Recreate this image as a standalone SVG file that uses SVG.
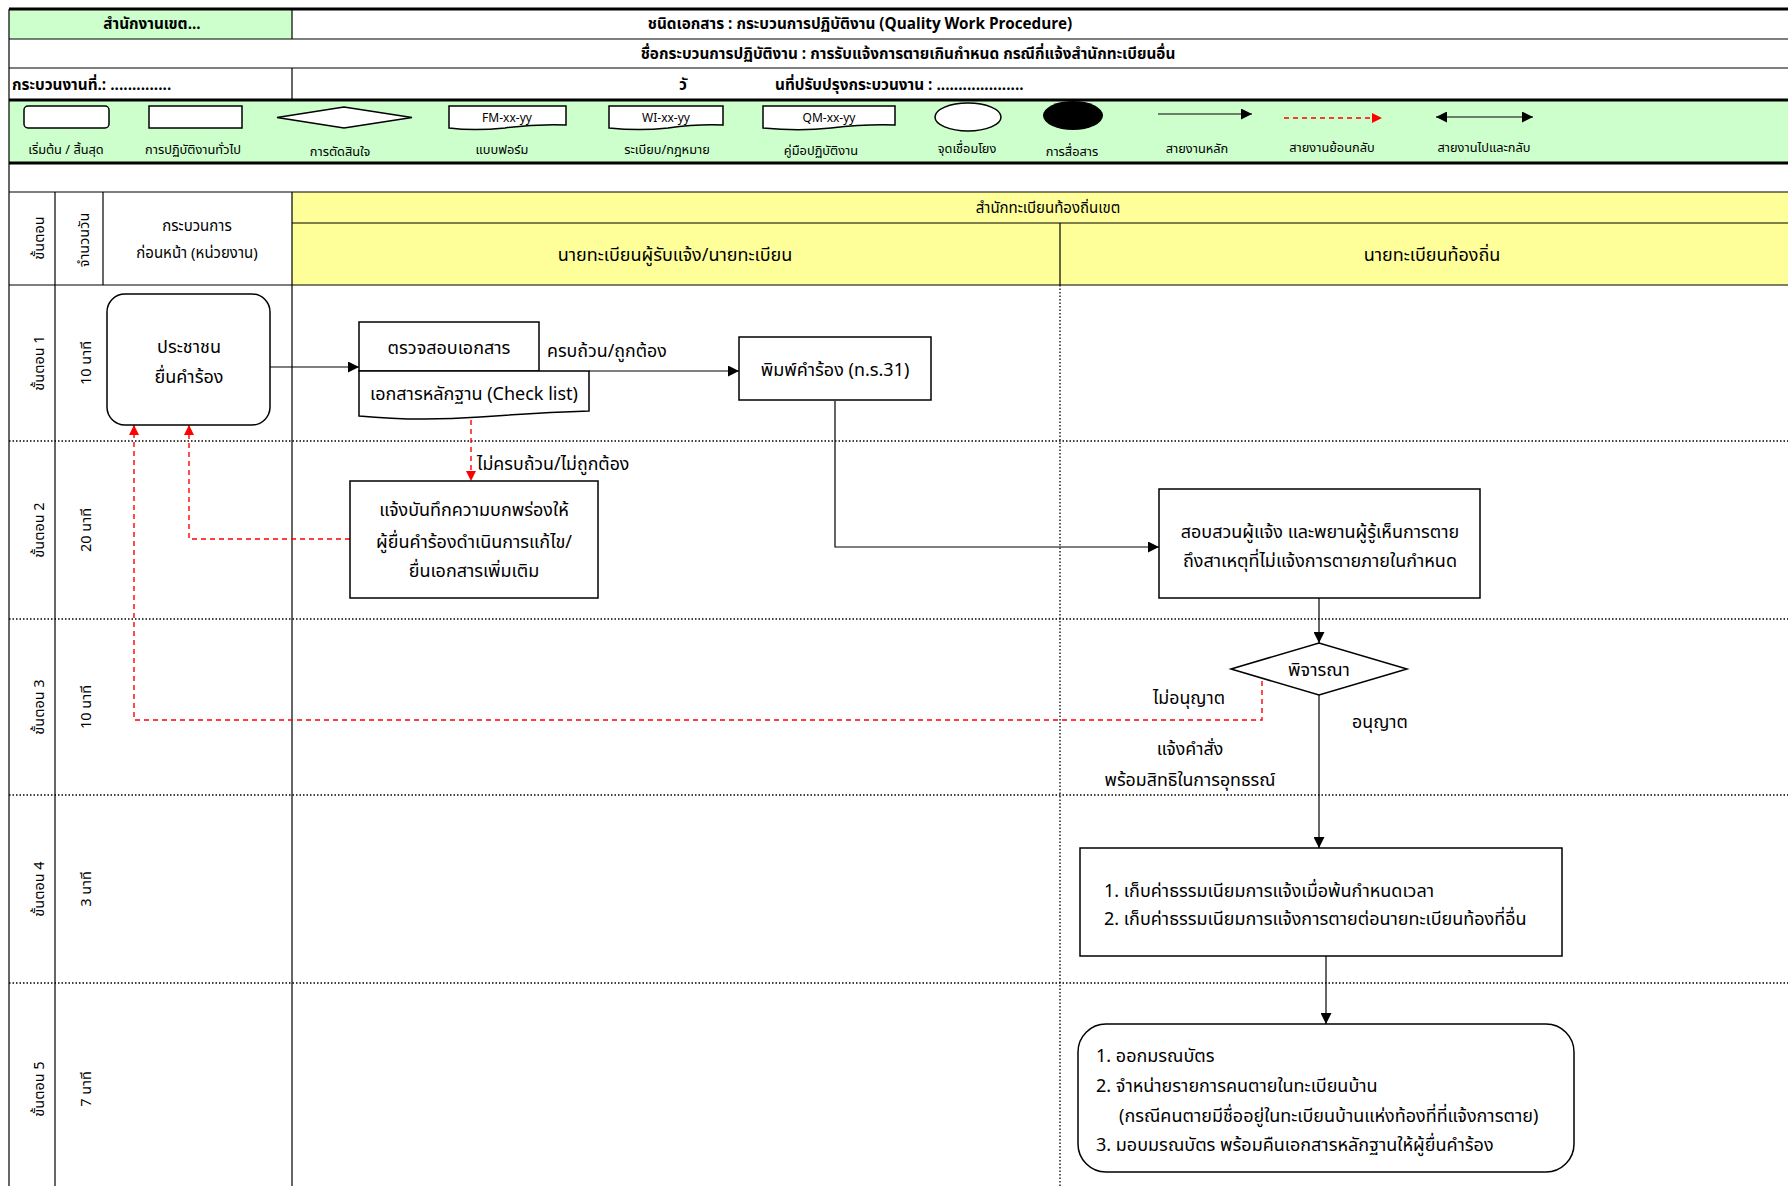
<svg xmlns="http://www.w3.org/2000/svg" width="1788" height="1186" viewBox="0 0 1788 1186">
<defs>
<style>
text{font-family:"Noto Sans Thai","Tahoma","Leelawadee UI","Noto Sans","DejaVu Sans",sans-serif;fill:#000;}
.h{font-size:15.3px;font-weight:bold;}
.lg{font-size:12.8px;}
.lgs{font-size:12px;}
.n{font-size:18px;}
.lab{font-size:17.8px;}
.rt{font-size:14.5px;}
.hd{font-size:15px;}
.ln{stroke:#000;stroke-width:1.2;fill:none;}
.thk{stroke:#000;stroke-width:3;fill:none;}
.dot{stroke:#000;stroke-width:1.3;stroke-dasharray:1.5,2;fill:none;}
.box{fill:#fff;stroke:#000;stroke-width:1.5;}
.con{stroke:#000;stroke-width:1.2;fill:none;}
.red{stroke:#f00;stroke-width:1.4;stroke-dasharray:5,4;fill:none;}
</style>
<marker id="ab" viewBox="0 0 10 10" refX="10" refY="5" markerWidth="12" markerHeight="11" markerUnits="userSpaceOnUse" orient="auto"><path d="M0,0L10,5L0,10z" fill="#000"/></marker>
<marker id="abs" viewBox="0 0 10 10" refX="0" refY="5" markerWidth="12" markerHeight="11" markerUnits="userSpaceOnUse" orient="auto"><path d="M10,0L0,5L10,10z" fill="#000"/></marker>
<marker id="ar" viewBox="0 0 10 10" refX="10" refY="5" markerWidth="10" markerHeight="10" markerUnits="userSpaceOnUse" orient="auto"><path d="M0,0L10,5L0,10z" fill="#f00"/></marker>
</defs>
<rect width="1788" height="1186" fill="#fff"/>

<g id="header">
<rect x="9" y="9" width="283" height="30" fill="#ccffcc"/>
<rect x="9" y="100" width="1779" height="63" fill="#ccffcc"/>
<line class="thk" x1="9" y1="9" x2="1788" y2="9"/>
<line class="ln" x1="9" y1="39" x2="1788" y2="39"/>
<line class="ln" x1="9" y1="68" x2="1788" y2="68"/>
<line class="thk" x1="9" y1="100" x2="1788" y2="100"/>
<line class="thk" x1="9" y1="163" x2="1788" y2="163"/>
<line class="ln" x1="292" y1="9" x2="292" y2="39"/>
<line class="ln" x1="292" y1="68" x2="292" y2="100"/>
<text class="h" x="152" y="29" text-anchor="middle">สำนักงานเขต...</text>
<text class="h" x="860" y="29" text-anchor="middle">ชนิดเอกสาร : กระบวนการปฏิบัติงาน (Quality Work Procedure)</text>
<text class="h" x="908" y="59" text-anchor="middle" font-size="15.8">ชื่อกระบวนการปฏิบัติงาน : การรับแจ้งการตายเกินกำหนด กรณีกี่แจ้งสำนักทะเบียนอื่น</text>
<text class="h" x="12" y="90">กระบวนงานที่.: ..............</text>
<text class="h" x="683" y="90" text-anchor="middle">วั</text>
<text class="h" x="775" y="90">นที่ปรับปรุงกระบวนงาน : ....................</text>
</g>

<g id="legend">
<rect class="box" x="24" y="106" width="85" height="22" rx="4" stroke-width="1.2"/>
<rect class="box" x="149" y="106" width="93" height="22" stroke-width="1.2"/>
<polygon class="box" points="277,117.5 344,107 412,117.5 344,128" stroke-width="1.2"/>
<path class="box" stroke-width="1.2" d="M449,106H566V125C540,124 520,126 505,128C485,130 465,130 449,128Z"/>
<path class="box" stroke-width="1.2" d="M609,106H723V125C700,124 682,126 668,128C650,130 628,130 609,128Z"/>
<path class="box" stroke-width="1.2" d="M763,106H895V125C868,124 848,126 831,128C812,130 785,130 763,128Z"/>
<ellipse class="box" cx="968" cy="117" rx="33" ry="14" stroke-width="1.2"/>
<ellipse cx="1073" cy="115.5" rx="30" ry="14.5" fill="#000"/>
<line class="con" x1="1158" y1="114" x2="1252" y2="114" marker-end="url(#ab)"/>
<line class="red" x1="1284" y1="118" x2="1382" y2="118" stroke-dasharray="4,3" marker-end="url(#ar)"/>
<line class="con" x1="1436" y1="117" x2="1533" y2="117" marker-start="url(#abs)" marker-end="url(#ab)"/>
<text class="lgs" x="507" y="122" text-anchor="middle">FM-xx-yy</text>
<text class="lgs" x="666" y="122" text-anchor="middle">WI-xx-yy</text>
<text class="lgs" x="829" y="122" text-anchor="middle">QM-xx-yy</text>
<text class="lg" x="66" y="154" text-anchor="middle">เริ่มต้น / สิ้นสุด</text>
<text class="lg" x="193" y="154" text-anchor="middle">การปฏิบัติงานทั่วไป</text>
<text class="lg" x="340" y="156" text-anchor="middle">การตัดสินใจ</text>
<text class="lg" x="502" y="154" text-anchor="middle">แบบฟอร์ม</text>
<text class="lg" x="667" y="154" text-anchor="middle">ระเบียบ/กฎหมาย</text>
<text class="lg" x="821" y="155" text-anchor="middle">คู่มือปฏิบัติงาน</text>
<text class="lg" x="967" y="153" text-anchor="middle">จุดเชื่อมโยง</text>
<text class="lg" x="1072" y="156" text-anchor="middle">การสื่อสาร</text>
<text class="lg" x="1197" y="153" text-anchor="middle">สายงานหลัก</text>
<text class="lg" x="1332" y="152" text-anchor="middle">สายงานย้อนกลับ</text>
<text class="lg" x="1484" y="152" text-anchor="middle">สายงานไปและกลับ</text>
</g>

<g id="grid">
<rect x="292" y="192" width="1496" height="93" fill="#ffff99"/>
<line class="ln" x1="9" y1="192" x2="1788" y2="192"/>
<line class="ln" x1="292" y1="223" x2="1788" y2="223"/>
<line class="ln" x1="9" y1="285" x2="1788" y2="285" stroke-width="1.5"/>
<line class="ln" x1="9" y1="9" x2="9" y2="1186" stroke-width="2.5"/>
<line class="ln" x1="55" y1="192" x2="55" y2="1186" stroke-width="1.5"/>
<line class="ln" x1="103" y1="192" x2="103" y2="285" stroke-width="1.5"/>
<line class="ln" x1="292" y1="192" x2="292" y2="1186" stroke-width="1.5"/>
<line class="ln" x1="1060" y1="223" x2="1060" y2="285"/>
<line class="dot" x1="1060" y1="285" x2="1060" y2="1186"/>
<line class="dot" x1="9" y1="441" x2="1788" y2="441"/>
<line class="dot" x1="9" y1="619" x2="1788" y2="619"/>
<line class="dot" x1="9" y1="795" x2="1788" y2="795"/>
<line class="dot" x1="9" y1="983" x2="1788" y2="983"/>
<text class="hd" x="1048" y="213" text-anchor="middle">สำนักทะเบียนท้องถิ่นเขต</text>
<text class="n" x="675" y="261" text-anchor="middle" font-size="15.5">นายทะเบียนผู้รับแจ้ง/นายทะเบียน</text>
<text class="n" x="1432" y="261" text-anchor="middle" font-size="15.5">นายทะเบียนท้องถิ่น</text>
<text class="hd" x="197" y="231" text-anchor="middle">กระบวนการ</text>
<text class="hd" x="197" y="258" text-anchor="middle">ก่อนหน้า (หน่วยงาน)</text>
<text class="rt" transform="translate(44,238) rotate(-90)" text-anchor="middle">ขั้นตอน</text>
<text class="rt" transform="translate(89,240) rotate(-90)" text-anchor="middle">จำนวนวัน</text>
<text class="rt" transform="translate(44,363) rotate(-90)" text-anchor="middle">ขั้นตอน 1</text>
<text class="rt" transform="translate(91,363) rotate(-90)" text-anchor="middle">10 นาที</text>
<text class="rt" transform="translate(44,530) rotate(-90)" text-anchor="middle">ขั้นตอน 2</text>
<text class="rt" transform="translate(91,530) rotate(-90)" text-anchor="middle">20 นาที</text>
<text class="rt" transform="translate(44,707) rotate(-90)" text-anchor="middle">ขั้นตอน 3</text>
<text class="rt" transform="translate(91,707) rotate(-90)" text-anchor="middle">10 นาที</text>
<text class="rt" transform="translate(44,889) rotate(-90)" text-anchor="middle">ขั้นตอน 4</text>
<text class="rt" transform="translate(91,889) rotate(-90)" text-anchor="middle">3 นาที</text>
<text class="rt" transform="translate(44,1089) rotate(-90)" text-anchor="middle">ขั้นตอน 5</text>
<text class="rt" transform="translate(91,1089) rotate(-90)" text-anchor="middle">7 นาที</text>
</g>

<g id="connectors">
<line class="con" x1="270" y1="367" x2="359" y2="367" marker-end="url(#ab)"/>
<line class="con" x1="589" y1="371" x2="739" y2="371" marker-end="url(#ab)"/>
<path class="con" d="M835,401V547H1159" marker-end="url(#ab)"/>
<line class="con" x1="1319" y1="598" x2="1319" y2="643" marker-end="url(#ab)"/>
<line class="con" x1="1319" y1="695" x2="1319" y2="848" marker-end="url(#ab)"/>
<line class="con" x1="1326" y1="956" x2="1326" y2="1024" marker-end="url(#ab)"/>
<line class="red" x1="471" y1="420" x2="471" y2="481" marker-end="url(#ar)"/>
<path class="red" d="M350,539H189V425" marker-end="url(#ar)"/>
<path class="red" d="M1262,681V720H134V425" marker-end="url(#ar)"/>
<text class="lab" x="547" y="357">ครบถ้วน/ถูกต้อง</text>
<text class="lab" x="477" y="470">ไม่ครบถ้วน/ไม่ถูกต้อง</text>
<text class="lab" x="1189" y="704" text-anchor="middle">ไม่อนุญาต</text>
<text class="lab" x="1380" y="728" text-anchor="middle">อนุญาต</text>
<text class="lab" x="1190" y="755" text-anchor="middle">แจ้งคำสั่ง</text>
<text class="lab" x="1190" y="786" text-anchor="middle">พร้อมสิทธิในการอุทธรณ์</text>
</g>

<g id="n1">
<rect class="box" x="107" y="294" width="163" height="131" rx="18"/>
<text class="n" x="189" y="353" text-anchor="middle">ประชาชน</text>
<text class="n" x="189" y="383" text-anchor="middle">ยื่นคำร้อง</text>
</g>
<g id="n2">
<rect class="box" x="359" y="322" width="180" height="49"/>
<text class="n" x="449" y="354" text-anchor="middle">ตรวจสอบเอกสาร</text>
</g>
<g id="n2doc">
<path class="box" d="M359,371H589V411C555,412 520,414 480,417C440,420 400,420 359,416Z"/>
<text class="n" x="474" y="400" text-anchor="middle">เอกสารหลักฐาน (Check list)</text>
</g>
<g id="n3">
<rect class="box" x="739" y="337" width="192" height="63"/>
<text class="n" x="835" y="376" text-anchor="middle">พิมพ์คำร้อง (ท.ร.31)</text>
</g>
<g id="n4">
<rect class="box" x="350" y="481" width="248" height="117"/>
<text class="n" x="474" y="516" text-anchor="middle">แจ้งบันทึกความบกพร่องให้</text>
<text class="n" x="474" y="548" text-anchor="middle">ผู้ยื่นคำร้องดำเนินการแก้ไข/</text>
<text class="n" x="474" y="577" text-anchor="middle">ยื่นเอกสารเพิ่มเติม</text>
</g>
<g id="n5">
<rect class="box" x="1159" y="489" width="321" height="109"/>
<text class="n" x="1320" y="538" text-anchor="middle">สอบสวนผู้แจ้ง และพยานผู้รู้เห็นการตาย</text>
<text class="n" x="1320" y="567" text-anchor="middle">ถึงสาเหตุที่ไม่แจ้งการตายภายในกำหนด</text>
</g>
<g id="n6">
<polygon class="box" points="1231,669 1319,643 1407,669 1319,695"/>
<text class="n" x="1319" y="676" text-anchor="middle">พิจารณา</text>
</g>
<g id="n7">
<rect class="box" x="1080" y="848" width="482" height="108"/>
<text class="n" x="1104" y="897">1. เก็บค่าธรรมเนียมการแจ้งเมื่อพ้นกำหนดเวลา</text>
<text class="n" x="1104" y="925">2. เก็บค่าธรรมเนียมการแจ้งการตายต่อนายทะเบียนท้องที่อื่น</text>
</g>
<g id="n8">
<rect class="box" x="1078" y="1024" width="496" height="148" rx="28"/>
<text class="n" x="1096" y="1062">1. ออกมรณบัตร</text>
<text class="n" x="1096" y="1092">2. จำหน่ายรายการคนตายในทะเบียนบ้าน</text>
<text class="n" x="1119" y="1122">(กรณีคนตายมีชื่ออยู่ในทะเบียนบ้านแห่งท้องที่ที่แจ้งการตาย)</text>
<text class="n" x="1096" y="1151">3. มอบมรณบัตร พร้อมคืนเอกสารหลักฐานให้ผู้ยื่นคำร้อง</text>
</g>
</svg>
